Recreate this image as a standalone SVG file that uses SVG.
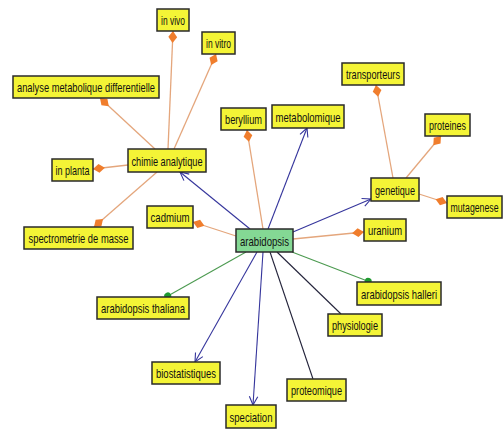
<svg xmlns="http://www.w3.org/2000/svg" width="504" height="430" viewBox="0 0 504 430">
<style>
.box{fill:#f4f436;stroke:#2a2a2a;stroke-width:1.5}
.main{fill:#84d894;stroke:#2a2a2a;stroke-width:1.5}
text{font-family:"Liberation Sans",Arial,sans-serif;font-size:13.5px;fill:#111;text-anchor:middle}
.or{stroke:#e4a67c;stroke-width:1.3;fill:none;marker-end:url(#dia)}
.bl{stroke:#35359c;stroke-width:1.1;fill:none;marker-end:url(#arr)}
.dk{stroke:#23233a;stroke-width:1.1;fill:none}
.gr{stroke:#4c9a50;stroke-width:1.1;fill:none;marker-end:url(#dot)}
</style>
<defs>
<marker id="arr" markerWidth="12" markerHeight="12" refX="10" refY="6" orient="auto" markerUnits="userSpaceOnUse"><path d="M1.5,1.8 L10,6 L1.5,10.2" fill="none" stroke="#35359c" stroke-width="1.1"/></marker>
<marker id="dia" markerWidth="12" markerHeight="10" refX="12" refY="5" orient="auto" markerUnits="userSpaceOnUse"><path d="M0,5 L6,0.6 L12,5 L6,9.4 Z" fill="#f07d2c"/></marker>
<marker id="dot" markerWidth="8" markerHeight="8" refX="6" refY="4" orient="auto" markerUnits="userSpaceOnUse"><circle cx="4" cy="4" r="3.5" fill="#1f9a30"/></marker>
</defs>
<rect width="504" height="430" fill="#ffffff"/>
<g id="connectors">
<line class="or" x1="168" y1="149" x2="173" y2="31"/>
<line class="or" x1="174" y1="149" x2="216" y2="54"/>
<line class="or" x1="155" y1="149" x2="100" y2="98"/>
<line class="or" x1="128" y1="165" x2="93" y2="169"/>
<line class="or" x1="157" y1="172" x2="94" y2="227"/>
<line class="or" x1="263" y1="229" x2="247" y2="130"/>
<line class="or" x1="236" y1="236" x2="193" y2="222"/>
<line class="or" x1="293" y1="239" x2="364" y2="232"/>
<line class="or" x1="393" y1="178" x2="376" y2="85"/>
<line class="or" x1="406" y1="178" x2="441" y2="136"/>
<line class="or" x1="419" y1="194" x2="447" y2="203"/>
<line class="bl" x1="250" y1="229" x2="180" y2="172"/>
<line class="bl" x1="268" y1="229" x2="307" y2="128"/>
<line class="bl" x1="293" y1="232" x2="371" y2="199"/>
<line class="bl" x1="257" y1="252" x2="195" y2="362"/>
<line class="bl" x1="263" y1="252" x2="253" y2="405"/>
<line class="dk" x1="277" y1="252" x2="341" y2="314"/>
<line class="dk" x1="270" y1="252" x2="313" y2="379"/>
<line class="gr" x1="246" y1="252" x2="166" y2="297"/>
<line class="gr" x1="292" y1="252" x2="370" y2="282"/>
</g>
<g id="n-in-vivo"><rect class="box" x="157" y="9" width="32" height="22"/><text x="173" y="25" textLength="24" lengthAdjust="spacingAndGlyphs">in vivo</text></g>
<g id="n-in-vitro"><rect class="box" x="202" y="32" width="33" height="22"/><text x="218.5" y="48" textLength="25" lengthAdjust="spacingAndGlyphs">in vitro</text></g>
<g id="n-analyse"><rect class="box" x="13" y="76" width="146" height="22"/><text x="86" y="92" textLength="138" lengthAdjust="spacingAndGlyphs">analyse metabolique differentielle</text></g>
<g id="n-in-planta"><rect class="box" x="52" y="159" width="41" height="22"/><text x="72.5" y="175" textLength="34" lengthAdjust="spacingAndGlyphs">in planta</text></g>
<g id="n-chimie"><rect class="box" x="128" y="149" width="78" height="23"/><text x="167" y="165.5" textLength="71" lengthAdjust="spacingAndGlyphs">chimie analytique</text></g>
<g id="n-beryllium"><rect class="box" x="221" y="108" width="45" height="22"/><text x="243.5" y="124" textLength="37" lengthAdjust="spacingAndGlyphs">beryllium</text></g>
<g id="n-metabolomique"><rect class="box" x="272" y="105" width="72" height="23"/><text x="308" y="121.5" textLength="65" lengthAdjust="spacingAndGlyphs">metabolomique</text></g>
<g id="n-transporteurs"><rect class="box" x="342" y="63" width="62" height="22"/><text x="373" y="79" textLength="54" lengthAdjust="spacingAndGlyphs">transporteurs</text></g>
<g id="n-proteines"><rect class="box" x="425" y="114" width="45" height="22"/><text x="447.5" y="130" textLength="37" lengthAdjust="spacingAndGlyphs">proteines</text></g>
<g id="n-genetique"><rect class="box" x="371" y="178" width="48" height="23"/><text x="395" y="194.5" textLength="40" lengthAdjust="spacingAndGlyphs">genetique</text></g>
<g id="n-mutagenese"><rect class="box" x="447" y="196" width="55" height="22"/><text transform="translate(474.5,212) scale(0.646,1)" x="0" y="0">mutagenese</text></g>
<g id="n-uranium"><rect class="box" x="364" y="219" width="42" height="22"/><text x="385" y="235" textLength="34" lengthAdjust="spacingAndGlyphs">uranium</text></g>
<g id="n-cadmium"><rect class="box" x="147" y="206" width="46" height="22"/><text x="170" y="222" textLength="39" lengthAdjust="spacingAndGlyphs">cadmium</text></g>
<g id="n-spectrometrie"><rect class="box" x="24" y="227" width="109" height="22"/><text x="78.5" y="243" textLength="100" lengthAdjust="spacingAndGlyphs">spectrometrie de masse</text></g>
<g id="n-arabidopsis"><rect class="main" x="236" y="229" width="57" height="23"/><text x="264.5" y="245.5" textLength="49" lengthAdjust="spacingAndGlyphs">arabidopsis</text></g>
<g id="n-thaliana"><rect class="box" x="97" y="297" width="92" height="22"/><text x="143" y="313" textLength="84" lengthAdjust="spacingAndGlyphs">arabidopsis thaliana</text></g>
<g id="n-halleri"><rect class="box" x="357" y="282" width="84" height="23"/><text x="399" y="298.5" textLength="76" lengthAdjust="spacingAndGlyphs">arabidopsis halleri</text></g>
<g id="n-physiologie"><rect class="box" x="328" y="314" width="54" height="22"/><text x="355" y="330" textLength="46" lengthAdjust="spacingAndGlyphs">physiologie</text></g>
<g id="n-biostatistiques"><rect class="box" x="152" y="362" width="68" height="22"/><text x="186" y="378" textLength="60" lengthAdjust="spacingAndGlyphs">biostatistiques</text></g>
<g id="n-proteomique"><rect class="box" x="287" y="379" width="59" height="22"/><text x="316.5" y="395" textLength="51" lengthAdjust="spacingAndGlyphs">proteomique</text></g>
<g id="n-speciation"><rect class="box" x="226" y="405" width="50" height="23"/><text x="251" y="421.5" textLength="43" lengthAdjust="spacingAndGlyphs">speciation</text></g>
</svg>
